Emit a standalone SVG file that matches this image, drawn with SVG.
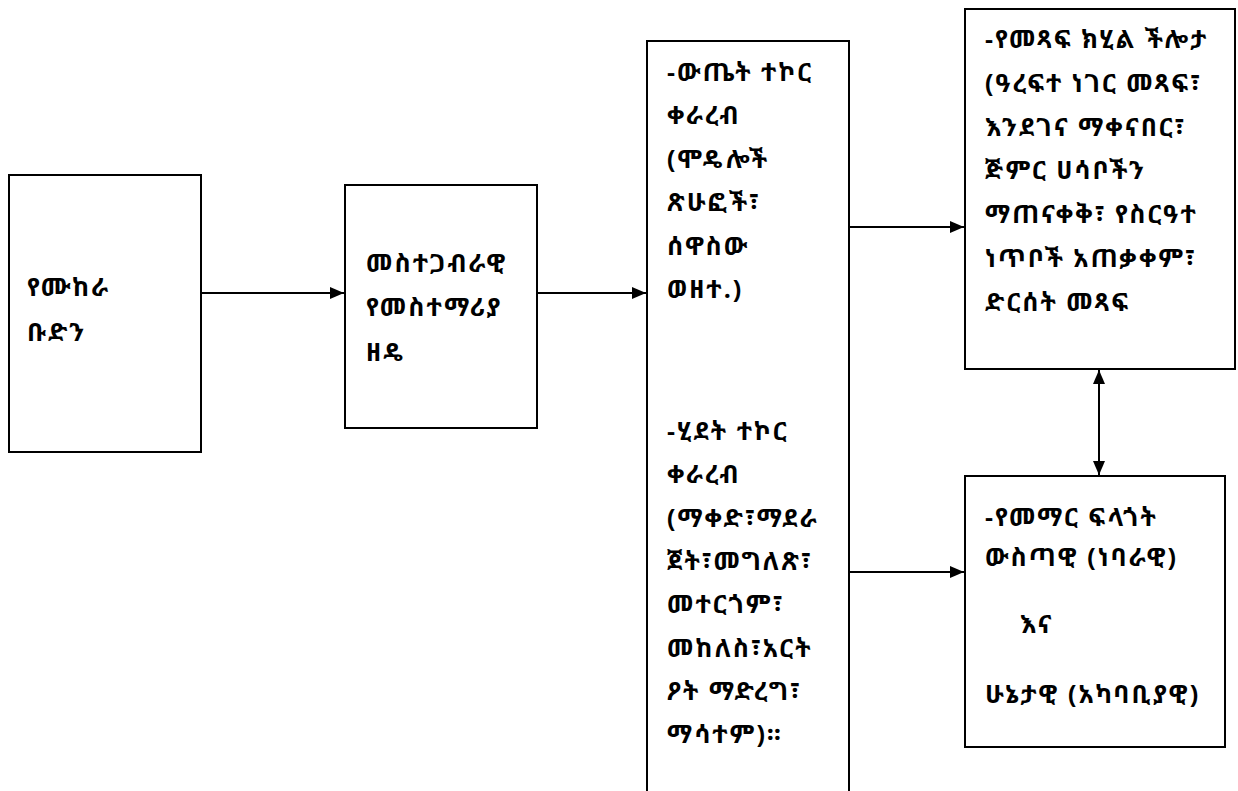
<svg xmlns="http://www.w3.org/2000/svg" width="1238" height="791" viewBox="0 0 1238 791">
<style>
.box{fill:#fff;stroke:#000;stroke-width:2}
.t{font-family:"Noto Sans Ethiopic","Abyssinica SIL","Noto Serif Ethiopic","DejaVu Sans","Noto Sans",sans-serif;font-size:25px;font-weight:bold;letter-spacing:2px;fill:#000}
.c{stroke:#000;stroke-width:2;fill:none}
</style>
<defs>
<marker id="ah" markerWidth="14" markerHeight="12" refX="14" refY="6" orient="auto-start-reverse" markerUnits="userSpaceOnUse">
<path d="M0,0 L14,6 L0,12 Z" fill="#000"/>
</marker>
</defs>
<rect width="1238" height="791" fill="#fff"/>
<g id="n1">
<rect class="box" x="9" y="175" width="192" height="277"/>
<text class="t" x="27" y="296">የሙከራ</text>
<text class="t" x="27" y="341">ቡድን</text>
</g>
<g id="n2">
<rect class="box" x="345" y="185" width="192" height="243"/>
<text class="t" x="366" y="272">መስተጋብራዊ</text>
<text class="t" x="366" y="316">የመስተማሪያ</text>
<text class="t" x="366" y="361">ዘዴ</text>
</g>
<g id="n3">
<rect class="box" x="647" y="41" width="202" height="770"/>
<text class="t" x="667" y="81">-ውጤት ተኮር</text>
<text class="t" x="667" y="124">ቀራረብ</text>
<text class="t" x="667" y="168">(ሞዴሎች</text>
<text class="t" x="667" y="211">ጽሁፎች፣</text>
<text class="t" x="667" y="255">ሰዋስው</text>
<text class="t" x="667" y="298">ወዘተ.)</text>
<text class="t" x="667" y="440">-ሂደት ተኮር</text>
<text class="t" x="667" y="483">ቀራረብ</text>
<text class="t" x="667" y="527">(ማቀድ፣ማደራ</text>
<text class="t" x="667" y="570">ጀት፣መግለጽ፣</text>
<text class="t" x="667" y="613">መተርጎም፣</text>
<text class="t" x="667" y="657">መከለስ፣አርት</text>
<text class="t" x="667" y="700">ዖት ማድረግ፣</text>
<text class="t" x="667" y="743">ማሳተም)።</text>
</g>
<g id="n4">
<rect class="box" x="965" y="9" width="270" height="360"/>
<text class="t" x="985" y="48">-የመጻፍ ክሂል ችሎታ</text>
<text class="t" x="985" y="92">(ዓረፍተ ነገር መጻፍ፣</text>
<text class="t" x="985" y="136">እንደገና ማቀናበር፣</text>
<text class="t" x="985" y="179">ጅምር ሀሳቦችን</text>
<text class="t" x="985" y="223">ማጠናቀቅ፣ የስርዓተ</text>
<text class="t" x="985" y="267">ነጥቦች አጠቃቀም፣</text>
<text class="t" x="985" y="311">ድርሰት መጻፍ</text>
</g>
<g id="n5">
<rect class="box" x="965" y="476" width="260" height="271"/>
<text class="t" x="985" y="526">-የመማር ፍላጎት</text>
<text class="t" x="985" y="566">ውስጣዊ (ነባራዊ)</text>
<text class="t" x="1020" y="633">እና</text>
<text class="t" x="985" y="703">ሁኔታዊ (አካባቢያዊ)</text>
</g>
<g id="connectors">
<line class="c" x1="201" y1="293" x2="344" y2="293" marker-end="url(#ah)"/>
<line class="c" x1="537" y1="293" x2="646" y2="293" marker-end="url(#ah)"/>
<line class="c" x1="849" y1="227" x2="964" y2="227" marker-end="url(#ah)"/>
<line class="c" x1="849" y1="572" x2="964" y2="572" marker-end="url(#ah)"/>
<line class="c" x1="1099" y1="370" x2="1099" y2="475" marker-start="url(#ah)" marker-end="url(#ah)"/>
</g>
</svg>
